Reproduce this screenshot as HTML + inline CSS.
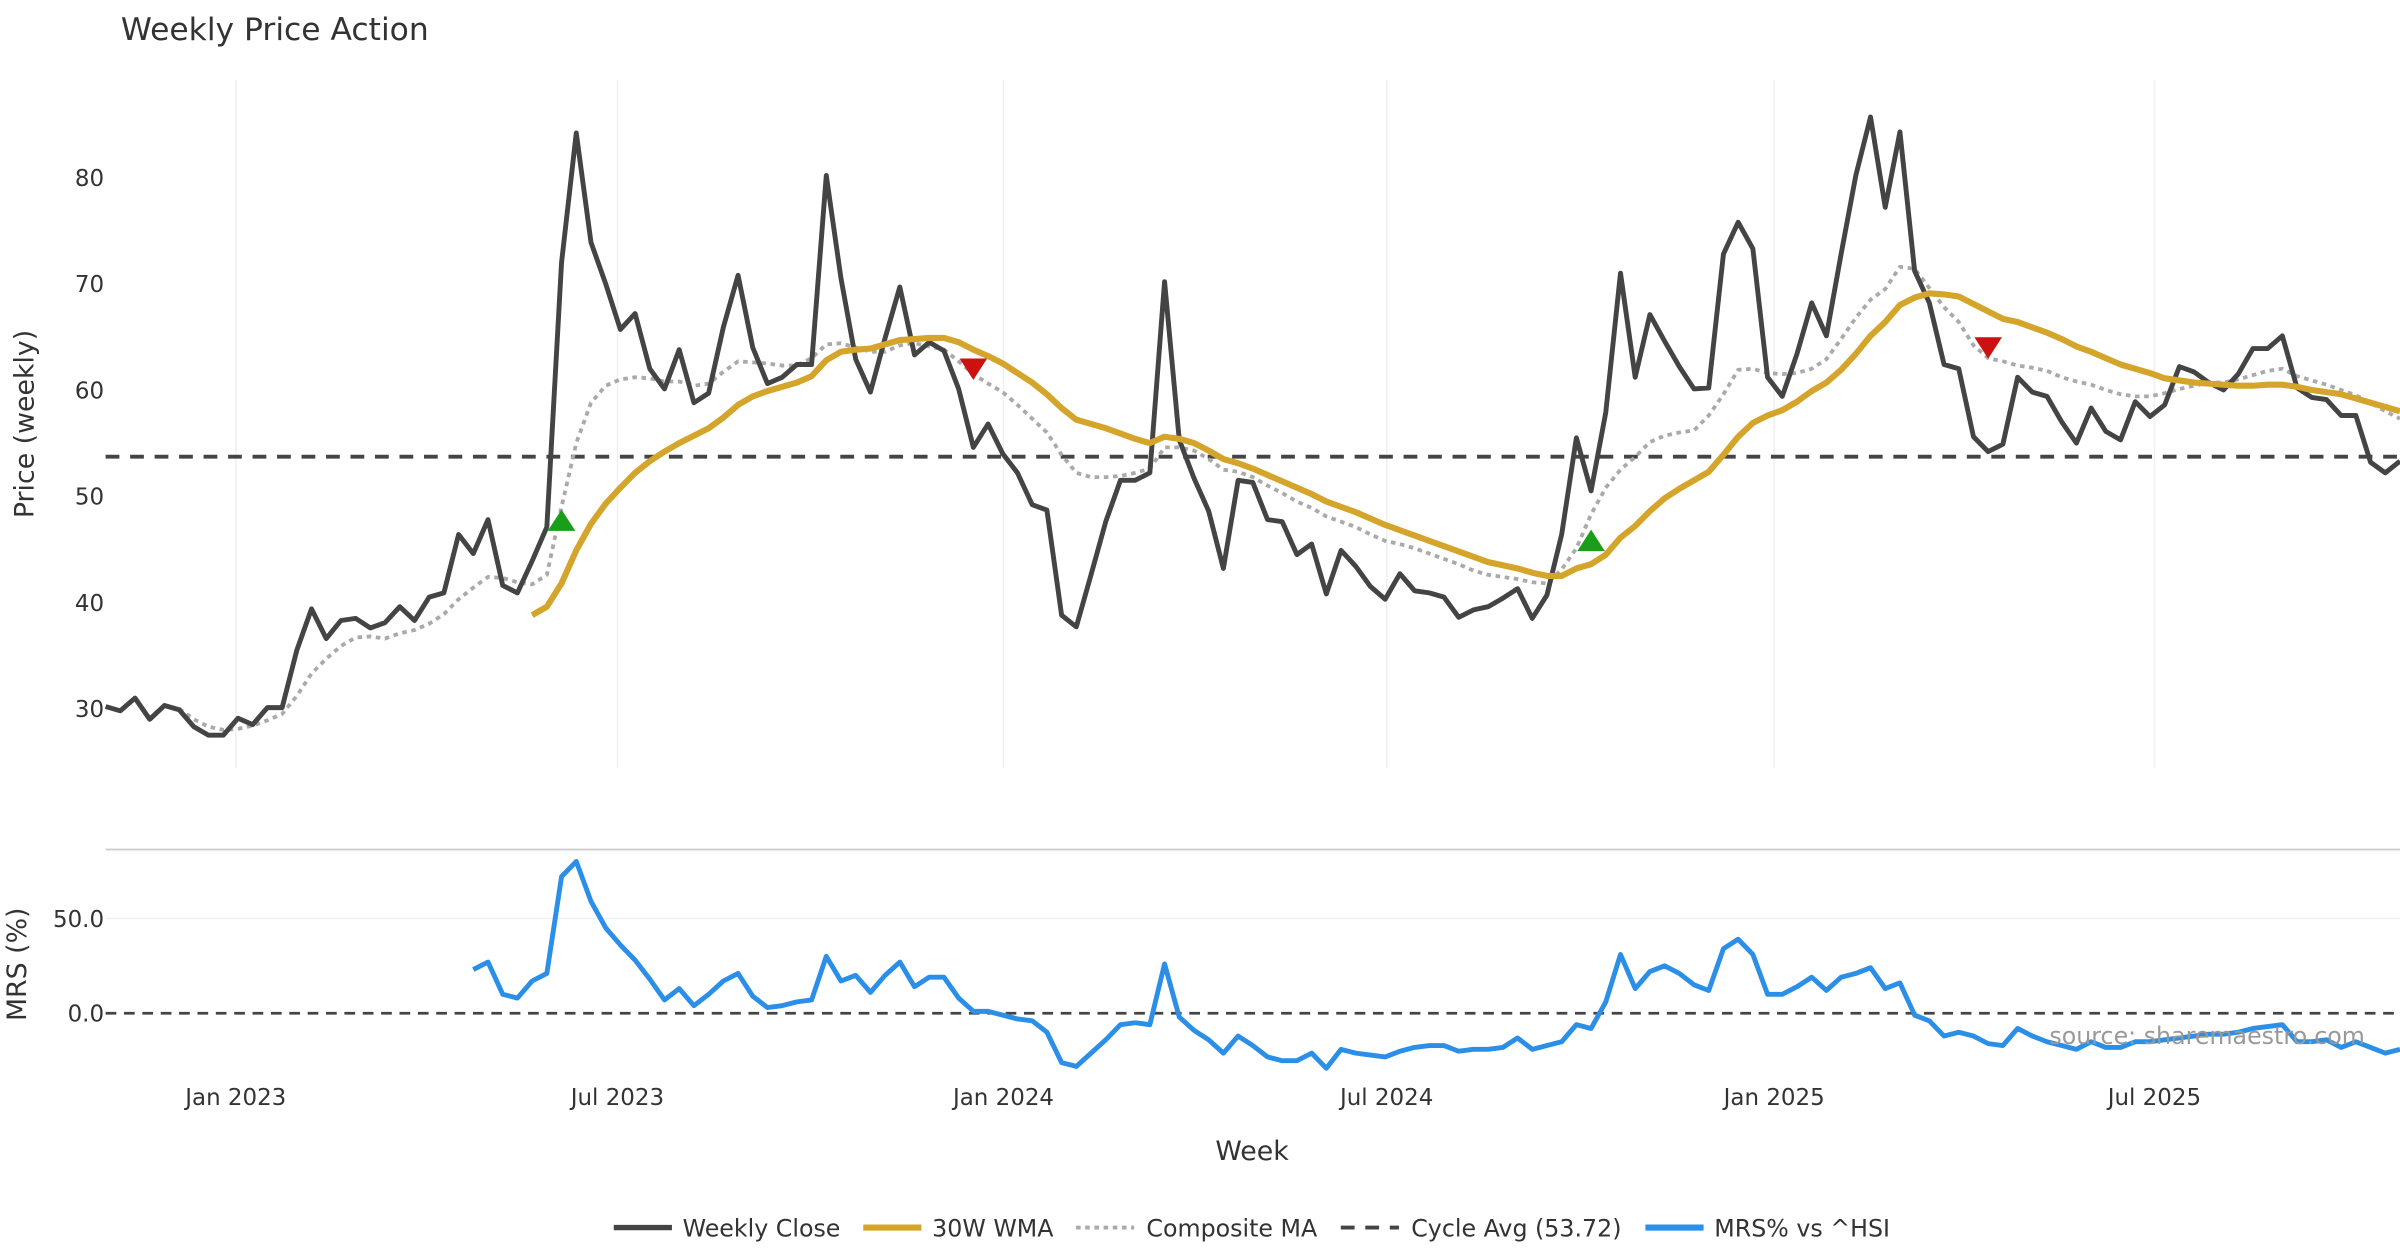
<!DOCTYPE html>
<html><head><meta charset="utf-8"><style>
html,body{margin:0;padding:0;background:#fff;}
svg{display:block;font-family:"DejaVu Sans","Liberation Sans",sans-serif;}
</style></head><body>
<svg id="chart" width="2400" height="1260" viewBox="0 0 1568 823.2" xmlns="http://www.w3.org/2000/svg">
<rect width="1568" height="823.2" fill="#fff"/>
<text x="79" y="26" font-size="20.5" fill="#333">Weekly Price Action</text>
<g id="grid"></g>
<line x1="69" x2="1568" y1="555" y2="555" stroke="#ccc" stroke-width="1.2"/>
<g id="series"></g>
<g id="axes"></g>
<text transform="translate(22,277) rotate(-90)" text-anchor="middle" font-size="17.5" fill="#333">Price (weekly)</text>
<text transform="translate(17,630) rotate(-90)" text-anchor="middle" font-size="17.5" fill="#333">MRS (%)</text>
<text x="818" y="758" text-anchor="middle" font-size="17.5" fill="#333">Week</text>
<text x="1442" y="682" text-anchor="middle" font-size="15.5" fill="#999">source: sharemaestro.com</text>
<g id="legend">
<line x1="401" x2="439" y1="802" y2="802" stroke="#444" stroke-width="3.5"/>
<text x="446" y="808" font-size="15.5" fill="#333">Weekly Close</text>
<line x1="564" x2="602" y1="802" y2="802" stroke="#d4a52a" stroke-width="4"/>
<text x="609" y="808" font-size="15.5" fill="#333">30W WMA</text>
<line x1="703" x2="741" y1="802" y2="802" stroke="#aaa" stroke-width="2.5" stroke-dasharray="3,3"/>
<text x="749" y="808" font-size="15.5" fill="#333">Composite MA</text>
<line x1="876" x2="914" y1="802" y2="802" stroke="#444" stroke-width="2.5" stroke-dasharray="9,7"/>
<text x="922" y="808" font-size="15.5" fill="#333">Cycle Avg (53.72)</text>
<line x1="1075" x2="1113" y1="802" y2="802" stroke="#2b8fe8" stroke-width="4"/>
<text x="1120" y="808" font-size="15.5" fill="#333">MRS% vs ^HSI</text>
</g>
</svg>
<script>
const closeVals=[30.2,29.8,31,29,30.3,29.9,28.3,27.5,27.5,29.1,28.5,30.1,30.1,35.5,39.4,36.6,38.3,38.5,37.6,38.1,39.6,38.3,40.5,40.9,46.4,44.6,47.8,41.6,40.9,43.9,47.1,72,84.2,73.9,70,65.7,67.2,62,60.1,63.8,58.8,59.7,65.9,70.8,64,60.6,61.2,62.4,62.4,80.2,70.5,62.9,59.8,64.9,69.7,63.3,64.5,63.7,60.1,54.6,56.8,54,52.2,49.2,48.7,38.8,37.7,42.6,47.6,51.5,51.5,52.2,70.2,55.3,51.7,48.6,43.2,51.5,51.3,47.8,47.6,44.5,45.5,40.8,44.9,43.4,41.5,40.3,42.7,41.1,40.9,40.5,38.6,39.3,39.6,40.4,41.3,38.5,40.7,46.4,55.5,50.5,57.9,71,61.2,67.1,64.6,62.2,60.1,60.2,72.8,75.8,73.3,61.2,59.4,63.4,68.2,65.1,72.8,80.2,85.7,77.2,84.3,71.2,68.2,62.4,62,55.6,54.2,54.9,61.2,59.8,59.4,57,55,58.3,56.1,55.3,58.9,57.5,58.6,62.2,61.7,60.7,60,61.5,63.9,63.9,65.1,60.2,59.3,59.1,57.6,57.6,53.2,52.2,53.3];
const wmaVals=[38.8,39.6,41.8,44.9,47.4,49.3,50.8,52.2,53.3,54.2,55,55.7,56.4,57.4,58.6,59.4,59.9,60.3,60.7,61.3,62.8,63.6,63.8,63.9,64.3,64.7,64.8,64.9,64.9,64.5,63.8,63.2,62.5,61.6,60.7,59.6,58.3,57.2,56.8,56.4,55.9,55.4,55,55.6,55.4,55,54.3,53.5,53.1,52.6,52,51.4,50.8,50.2,49.5,49,48.5,47.9,47.3,46.8,46.3,45.8,45.3,44.8,44.3,43.8,43.5,43.2,42.8,42.5,42.5,43.2,43.6,44.5,46.1,47.2,48.6,49.8,50.7,51.5,52.3,53.9,55.6,56.9,57.6,58.1,58.9,59.9,60.7,61.9,63.4,65.1,66.4,68,68.7,69.1,69,68.8,68.1,67.4,66.7,66.4,65.9,65.4,64.8,64.1,63.6,63,62.4,62,61.6,61.1,60.9,60.7,60.6,60.5,60.4,60.4,60.5,60.5,60.3,60,59.8,59.6,59.2,58.8,58.4,58];
const compVals=[30,29,28.3,28,28.1,28.4,28.9,29.5,31.2,33.3,34.7,35.9,36.7,36.8,36.6,37.1,37.4,38,38.9,40.3,41.4,42.4,42.3,41.9,41.7,42.6,49,55,58.8,60.4,61,61.2,61.1,60.8,60.8,60.4,60.6,61.7,62.7,62.6,62.5,62.3,62.3,63,64.3,64.4,64,63.6,63.6,64.2,64.4,64.1,63.8,62.7,61.5,60.6,59.8,58.6,57.3,56,53.9,52.2,51.8,51.8,51.9,52.2,52.6,54.6,54.6,54.3,53.5,52.5,52.3,51.8,51,50.3,49.5,48.9,48.1,47.6,47.1,46.4,45.8,45.5,45.1,44.6,44.1,43.6,43,42.6,42.4,42.2,41.9,41.8,43.1,45.1,48.3,50.8,52.5,53.7,55.1,55.7,56,56.2,57.6,59.6,61.9,62,61.6,61.5,61.6,62,62.9,64.8,66.8,68.5,69.5,71.6,71.4,69.6,67.8,66.4,64.2,63,62.7,62.3,62.1,61.8,61.2,60.8,60.5,60,59.6,59.4,59.4,59.7,60.1,60.4,60.7,60.7,61,61.4,61.8,62,61.3,60.9,60.5,60,59.5,58.8,58,57.3];
const mrsVals=[23,27,10,8,17,21,72,80,59,45,36,28,18,7,13,4,10,17,21,9,3,4,6,7,30,17,20,11,20,27,14,19,19,8,1,1,-1,-3,-4,-10,-26,-28,-21,-14,-6,-5,-6,26,-2,-9,-14,-21,-12,-17,-23,-25,-25,-21,-29,-19,-21,-22,-23,-20,-18,-17,-17,-20,-19,-19,-18,-13,-19,-17,-15,-6,-8,6,31,13,22,25,21,15,12,34,39,31,10,10,14,19,12,19,21,24,13,16,-1,-4,-12,-10,-12,-16,-17,-8,-12,-15,-17,-19,-15,-18,-18,-15,-15,-14,-13,-12,-11,-11,-10,-8,-7,-6,-15,-15,-14,-18,-15,-18,-21,-19];
const cycleAvg=53.72;
const buyIdx=[31,101];const buyVals=[47.6,45.7];
const sellIdx=[59,128];const sellVals=[62.1,64.1];
const priceTicks=[30,40,50,60,70,80];
const mrsTicks=[0,50];
const dateTickLabels=["Jan 2023","Jul 2023","Jan 2024","Jul 2024","Jan 2025","Jul 2025"];
const dateTickWeeks=[8.85,34.8,61.05,87.1,113.45,139.3];

const NS="http://www.w3.org/2000/svg";
const N=closeVals.length;
const X0=69,X1=1568;
function x(i){return X0+i*(X1-X0)/(N-1);}
function yP(v){return 463-(v-30)*6.94;}
function yM(v){return 662-v*1.24;}
function mk(tag,attrs,parent){const e=document.createElementNS(NS,tag);for(const k in attrs)e.setAttribute(k,attrs[k]);parent.appendChild(e);return e;}
const grid=document.getElementById('grid'),ser=document.getElementById('series'),axes=document.getElementById('axes');
dateTickWeeks.forEach((w,k)=>{
  const gl=mk('line',{x1:x(w),x2:x(w),y1:52,y2:502,stroke:'#eef0f4','stroke-width':1},grid);
  
  
  const t=mk('text',{x:x(w),y:722,'text-anchor':'middle','font-size':15,fill:'#333'},axes);
  t.textContent=dateTickLabels[k];
  
  
});
priceTicks.forEach(v=>{
  const t=mk('text',{x:68,y:yP(v)+5.5,'text-anchor':'end','font-size':15,fill:'#333'},axes);
  t.textContent=v;
  
  
});
mrsTicks.forEach(v=>{
  if(v!==0){const gl=mk('line',{x1:X0,x2:X1,y1:yM(v),y2:yM(v),stroke:'#eef0f4','stroke-width':1},grid);
  
  }
  const t=mk('text',{x:68,y:yM(v)+5.5,'text-anchor':'end','font-size':15,fill:'#333'},axes);
  t.textContent=v.toFixed(1);
  
  
});
function path(vals,yf,style,name){
  const s=N-vals.length;
  const d=vals.map((v,k)=>(k?'L':'M')+x(s+k).toFixed(2)+','+yf(v).toFixed(2)).join('');
  const p=mk('path',Object.assign({d:d,fill:'none','stroke-linejoin':'round'},style),ser);
  
  
}
const ca=mk('line',{x1:X0,x2:X1,y1:yP(cycleAvg),y2:yP(cycleAvg),stroke:'#444','stroke-width':2.5,'stroke-dasharray':'9,7'},ser);


const z=mk('line',{x1:X0,x2:X1,y1:yM(0),y2:yM(0),stroke:'#444','stroke-width':1.8,'stroke-dasharray':'7,5'},ser);


path(compVals,yP,{stroke:'#aaa','stroke-width':2.5,'stroke-dasharray':'3,3'},'composite-ma-line');
path(closeVals,yP,{stroke:'#444','stroke-width':3.2},'weekly-close-line');
path(wmaVals,yP,{stroke:'#d4a52a','stroke-width':4},'wma-30w-line');
path(mrsVals,yM,{stroke:'#2b8fe8','stroke-width':3.2},'mrs-line');
buyIdx.forEach((i,k)=>{const cx=x(i),cy=yP(buyVals[k]);
  const t=mk('polygon',{points:`${cx-9},${cy+6} ${cx+9},${cy+6} ${cx},${cy-8}`,fill:'#1a9e1a'},ser);
  
  });
sellIdx.forEach((i,k)=>{const cx=x(i),cy=yP(sellVals[k]);
  const t=mk('polygon',{points:`${cx-9},${cy-6} ${cx+9},${cy-6} ${cx},${cy+8}`,fill:'#cc1111'},ser);
  
  });
</script>
</body></html>
